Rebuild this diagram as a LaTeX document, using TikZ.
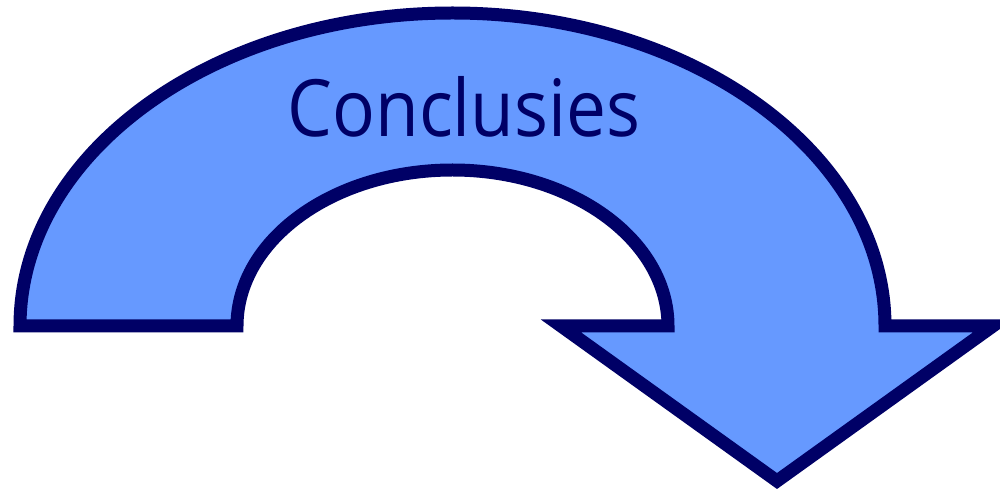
\documentclass[tikz,border=0pt]{standalone}
\usepackage{fontspec}
\setmainfont[FakeStretch=0.9]{Open Sans}
\usepackage{tikz}
\definecolor{arrowfill}{HTML}{6699FF}
\definecolor{arrowline}{HTML}{000066}

\begin{document}
\begin{tikzpicture}[x=0.02cm, y=0.02cm,
  bigarrow/.style={draw=arrowline, fill=arrowfill, line width=0.26cm, line join=miter},
  arrowtext/.style={text=arrowline, font=\fontsize{45}{50}\selectfont, inner sep=0pt}]

\useasboundingbox (0,0) rectangle (1000,490);

% the bent arrow
\draw[bigarrow] (20,164) arc[start angle=180, end angle=0, x radius=432.5, y radius=313]
  -- (993,164) -- (777,9) -- (561,164) -- (668,164)
  arc[start angle=0, end angle=180, x radius=215.5, y radius=156] -- cycle;

\node[arrowtext, anchor=base] (title) at (464,353) {Conclusies};
\end{tikzpicture}
\end{document}
